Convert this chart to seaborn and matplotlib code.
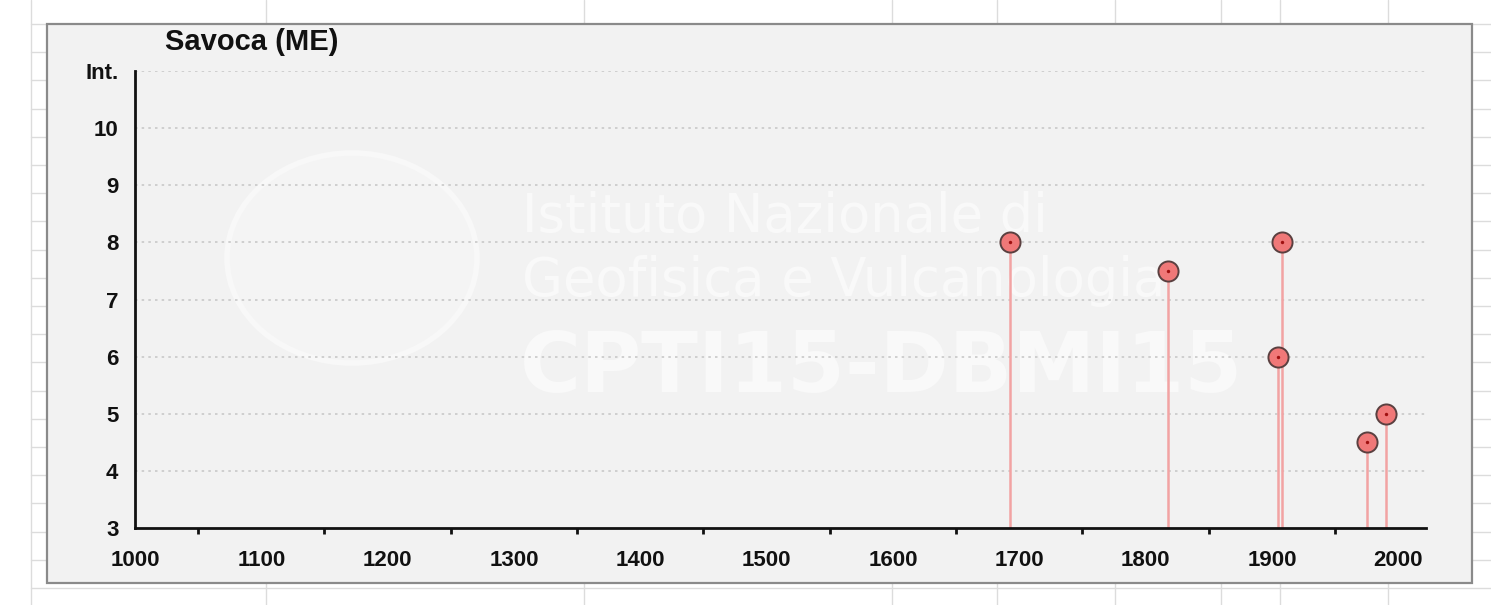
import numpy as np
import pandas as pd
import matplotlib.pyplot as plt
import seaborn as sns
from matplotlib.lines import Line2D
from matplotlib.patches import Rectangle, Ellipse

# Data
years = [1693, 1818, 1905, 1908, 1975, 1990]
intensity = [8, 7.5, 6, 8, 4.5, 5]
x_ticks = [1000, 1100, 1200, 1300, 1400, 1500, 1600, 1700, 1800, 1900, 2000]
y_ticks = [3, 4, 5, 6, 7, 8, 9, 10, 11]
y_tick_labels = ['3', '4', '5', '6', '7', '8', '9', '10', 'Int.']

df = pd.DataFrame({'year': years, 'int': intensity})

W, H = 1491, 605
sns.set_style('white')
plt.rcParams['font.family'] = ['Liberation Sans', 'DejaVu Sans']

fig = plt.figure(figsize=(W / 100, H / 100), dpi=100)
fig.patch.set_facecolor('white')

# spreadsheet cell lines behind the chart
grid_col = '#dcdcdc'
for xv in [31, 266, 584, 892, 997, 1115, 1221, 1280, 1388]:
    fig.add_artist(Line2D([xv / W, xv / W], [0, 1], color=grid_col, lw=1, zorder=0))
for yv in np.arange(24, 605, 28.2):
    fig.add_artist(Line2D([31 / W, 1], [1 - yv / H, 1 - yv / H], color=grid_col, lw=1, zorder=0))

# chart box
fig.add_artist(Rectangle((47 / W, 1 - 583 / H), (1472 - 47) / W, (583 - 24) / H,
                         facecolor='#f2f2f2', edgecolor='#8a8a8a', lw=1.6, zorder=1))

# watermark (logo + institute text)
wm = '#f9f9f9'
fig.add_artist(Ellipse((352 / W, 1 - 258 / H), 250 / W, 210 / H, facecolor='#f4f4f4',
                       edgecolor='#f8f8f8', lw=4, zorder=2))
fig.text(522 / W, 1 - 232 / H, 'Istituto Nazionale di', fontsize=38, color=wm,
         family='DejaVu Sans', va='baseline', ha='left', zorder=2)
fig.text(522 / W, 1 - 296 / H, 'Geofisica e Vulcanologia', fontsize=38, color=wm,
         family='DejaVu Sans', va='baseline', ha='left', zorder=2)
fig.text(520 / W, 1 - 392 / H, 'CPTI15-DBMI15', fontsize=60, fontweight='bold', color=wm,
         family='DejaVu Sans', va='baseline', ha='left', zorder=2)

ax = fig.add_axes([135 / W, 1 - 528 / H, (1426 - 135) / W, (528 - 71) / H])
ax.set_facecolor('none')
ax.set_zorder(3)

ax.vlines(df['year'], 3, df['int'], color='#f2a3a3', lw=1.8, zorder=2)
sns.scatterplot(data=df, x='year', y='int', ax=ax, s=210, color='#f07878',
                edgecolor='#5a4040', linewidth=1.4, zorder=3, legend=False)
sns.scatterplot(data=df, x='year', y='int', ax=ax, s=6, color='#a01010',
                linewidth=0, zorder=4, legend=False)

ax.set_xlim(1000, 2022)
ax.set_ylim(3, 11)
ax.set_xticks(x_ticks)
ax.set_xticks(np.arange(1050, 2001, 100), minor=True)
ax.set_yticks(y_ticks)
ax.set_yticklabels(y_tick_labels)
for yv in y_ticks[1:]:
    ax.axhline(yv, color='#c8c8c8', lw=1.2, ls=(0, (1.5, 2.5)), zorder=1)

for s in ['top', 'right']:
    ax.spines[s].set_visible(False)
for s in ['left', 'bottom']:
    ax.spines[s].set_color('#111111')
    ax.spines[s].set_linewidth(2)
ax.tick_params(axis='both', which='major', length=8, width=2, color='#111111',
               labelsize=16, labelcolor='#111111', direction='out')
ax.tick_params(axis='x', which='minor', length=4.5, width=2, color='#111111', direction='out', bottom=True)
ax.tick_params(axis='x', pad=8)
ax.tick_params(axis='y', pad=4)
for lab in ax.get_xticklabels() + ax.get_yticklabels():
    lab.set_fontweight('bold')
ax.set_xlabel('')
ax.set_ylabel('')

fig.text(165 / W, 1 - 42 / H, 'Savoca (ME)', fontsize=21, fontweight='bold', color='#111111',
         va='center', ha='left', zorder=4)

fig.savefig('out.png', dpi=100)
